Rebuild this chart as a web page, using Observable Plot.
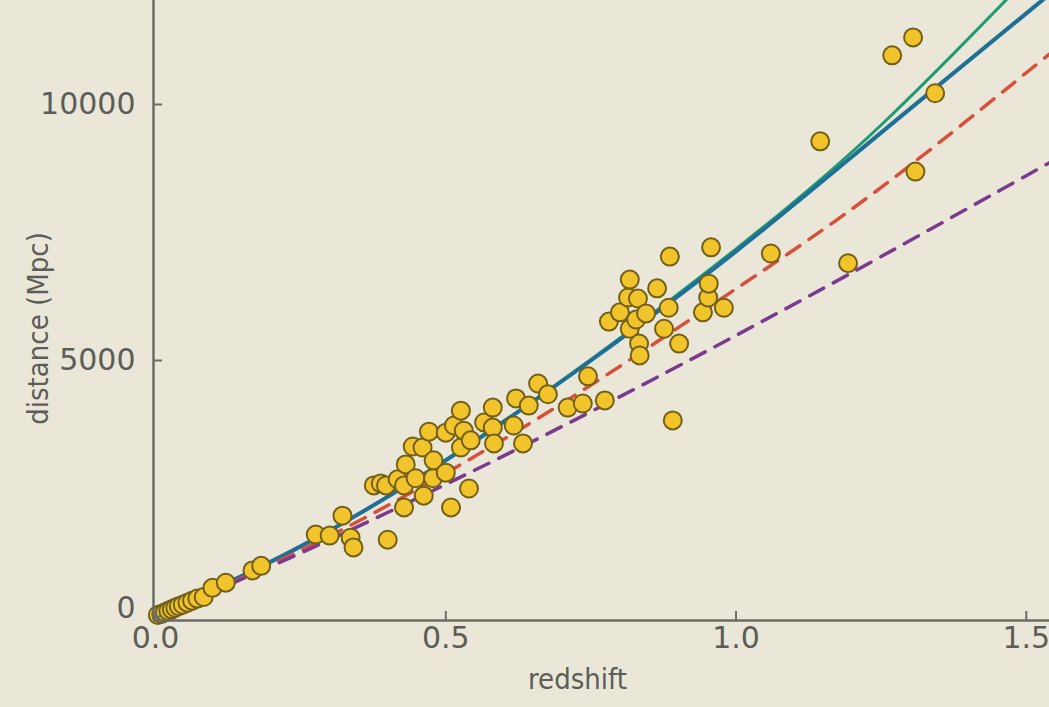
<!DOCTYPE html>
<html><head><meta charset="utf-8">
<script src="https://cdn.jsdelivr.net/npm/d3@7"></script>
<script src="https://cdn.jsdelivr.net/npm/@observablehq/plot@0.6"></script>
<style>
html,body{margin:0;padding:0;background:#eae7d9;overflow:hidden;}
#chart svg{display:block;}
</style></head><body><div id="chart"></div>
<script>
// Supernova points: redshift and distance (Mpc)
const snZ = [0.004,0.010,0.016,0.022,0.028,0.034,0.040,0.047,0.055,0.063,0.072,0.083,0.098,0.121,0.167,0.182,
  0.276,0.300,0.322,0.336,0.341,0.376,0.388,0.397,0.400,0.417,0.428,0.428,0.431,0.443,0.448,0.460,0.462,0.471,0.478,0.479,
  0.500,0.500,0.509,0.514,0.526,0.526,0.531,0.540,0.543,0.566,0.581,0.581,0.583,0.617,0.621,0.633,0.643,0.659,0.676,0.710,
  0.736,0.745,0.774,
  0.781,0.800,0.814,0.817,0.817,0.828,0.831,0.833,0.834,0.845,0.864,0.876,0.884,0.886,0.891,0.902,0.943,0.952,0.953,0.957,
  0.979,1.060,1.145,1.193,1.269,1.305,1.309,1.343];
const snD = [30,50,80,110,140,170,200,230,270,310,350,380,560,660,900,990,
  1600,1580,1970,1540,1350,2560,2600,2560,1500,2680,2560,2130,2970,3320,2700,3300,2360,3610,2700,3050,
  2810,3590,2130,3730,4020,3300,3630,2500,3440,3790,4080,3690,3380,3730,4260,3380,4120,4550,4340,4080,
  4160,4690,4220,
  5760,5940,6230,6580,5620,5800,6210,5330,5100,5920,6410,5620,6030,7030,3830,5330,5940,6230,6500,7210,
  6030,7090,9280,6900,10960,11310,8690,10220];

// Model curves (redshift grid and distance per model)
const modelZ = [0, 0.25, 0.5, 0.75, 1.0, 1.25, 1.5, 1.54];
const greenD = [0, 1370, 3060, 5020, 7180, 9600, 12450, 12900];
const blueD = [0, 1370, 3050, 5000, 7130, 9450, 11780, 12150];
const redD = [0, 1290, 2800, 4520, 6400, 8380, 10620, 10980];
const purpleD = [0, 1240, 2580, 4000, 5490, 7030, 8610, 8860];

const xTicks = [0, 0.5, 1.0, 1.5];
const yTicks = [0, 5000, 10000];

const points = snZ.map((z, i) => ({z, d: snD[i]}));
const curve = (arr) => modelZ.map((z, i) => ({z, d: arr[i]}));

const xMin = -0.0035, xMax = 1.54, yMin = -78, yMax = 12031;
const tickFont = "DejaVu Sans, sans-serif";
const titleFont = "'Liberation Sans Narrow', 'DejaVu Sans Condensed', sans-serif";

const chart = Plot.plot({
  width: 1049,
  height: 707,
  marginLeft: 153,
  marginRight: 0,
  marginTop: 0,
  marginBottom: 87,
  style: {background: "#eae7d9", overflow: "hidden"},
  x: {domain: [xMin, xMax], axis: null},
  y: {domain: [yMin, yMax], axis: null},
  marks: [
    Plot.line(curve(greenD), {x: "z", y: "d", stroke: "#1e9a72", strokeWidth: 3, curve: "natural", clip: true}),
    Plot.line(curve(blueD), {x: "z", y: "d", stroke: "#1f6f98", strokeWidth: 4, curve: "natural", clip: true}),
    Plot.line(curve(redD), {x: "z", y: "d", stroke: "#d9503a", strokeWidth: 3.5, strokeDasharray: "16,11", curve: "natural", clip: true}),
    Plot.line(curve(purpleD), {x: "z", y: "d", stroke: "#7b3a8e", strokeWidth: 3.5, strokeDasharray: "16,11", curve: "natural", clip: true}),
    Plot.dot(points, {x: "z", y: "d", r: 9, fill: "#f1c42c", stroke: "#736018", strokeWidth: 2}),
    Plot.ruleX([xMin], {stroke: "#6b6b66", strokeWidth: 2.5}),
    Plot.ruleY([yMin], {stroke: "#6b6b66", strokeWidth: 2.5}),
    Plot.axisX({ticks: xTicks, tickSize: 9, dy: -9, tickFormat: () => "", stroke: "#6b6b66", strokeWidth: 2, label: null}),
    Plot.axisX({ticks: xTicks, tickSize: 0, tickPadding: 6, tickFormat: d3.format(".1f"), fontSize: 30, fontFamily: tickFont, fill: "#5d5d58", label: null}),
    Plot.axisY({ticks: yTicks, tickSize: 9, dx: 9, tickFormat: () => "", stroke: "#6b6b66", strokeWidth: 2, label: null}),
    Plot.axisY({ticks: yTicks.slice(1), tickSize: 0, tickPadding: 18, tickFormat: d => String(d), fontSize: 30, fontFamily: tickFont, fill: "#5d5d58", label: null}),
    Plot.axisY({ticks: yTicks.slice(0, 1), tickSize: 0, tickPadding: 18, dy: -8, tickFormat: d => String(d), fontSize: 30, fontFamily: tickFont, fill: "#5d5d58", label: null}),
    Plot.text(["redshift"], {frameAnchor: "bottom", textAnchor: "middle", dx: -24, dy: 68, fontSize: 29, fontFamily: titleFont, fill: "#5d5d58"}),
    Plot.text(["distance (Mpc)"], {frameAnchor: "left", textAnchor: "middle", dx: -115, dy: 18, rotate: -90, fontSize: 29, fontFamily: titleFont, fill: "#5d5d58"})
  ]
});
document.getElementById("chart").appendChild(chart);
</script>
</body></html>
